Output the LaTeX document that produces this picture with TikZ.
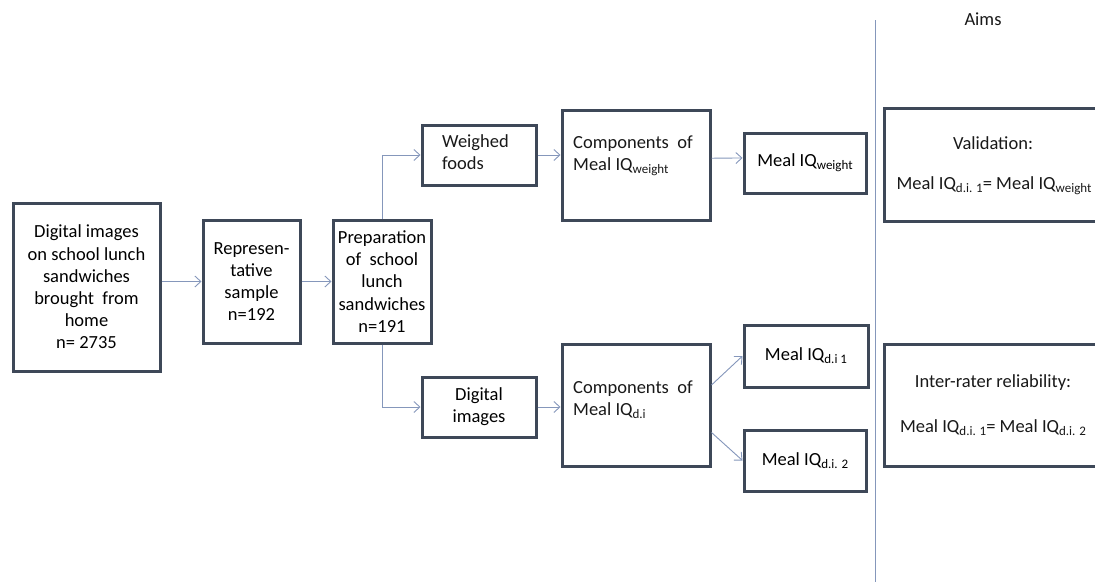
\documentclass[tikz,border=0pt]{standalone}
\usepackage{fontspec}
\setmainfont{Carlito}
\usetikzlibrary{arrows.meta,calc}
\definecolor{boxc}{HTML}{3E4858}
\definecolor{arrc}{HTML}{8597BB}
\newcommand{\lsub}[1]{\raisebox{-0.35ex}{\fontsize{13}{13}\selectfont #1}}
\tikzset{
  box/.style={draw=boxc, line width=3pt, fill=white, inner sep=0pt, align=center},
  txt/.style={inner sep=0pt, align=center, text=black!90},
  conn/.style={draw=arrc, line width=0.9pt, -{Straight Barb[length=6pt,width=11pt]}},
  plain/.style={draw=arrc, line width=0.9pt}
}
\begin{document}
\begin{tikzpicture}[x=1pt,y=-1pt,font=\fontsize{18.5}{22.2}\selectfont]
\useasboundingbox[fill=white] (0,0) rectangle (1095,581);
\clip (0,0) rectangle (1095,581);
% left chain
\node[box, minimum width=147, minimum height=168] (b1) at (86.5,287) {Digital images\\on school lunch\\sandwiches\\brought \ from\\home\\n= 2735};
\node[box, minimum width=97, minimum height=123] (b2) at (251.5,281.5) {Represen-\\tative\\sample\\n=192};
\node[box, minimum width=98, minimum height=123] (b3) at (382,281.5) {Preparation\\of \ school\\lunch\\sandwiches\\n=191};
% upper branch
\node[box, minimum width=114, minimum height=60] (wf) at (479,155) {};
\node[txt, align=left, anchor=west] (wft) at (442,152) {Weighed\\foods};
\node[box, minimum width=148, minimum height=110] (cw) at (636,165) {};
\node[txt, align=left, anchor=west] (cwt) at (573,156) {Components \ of\\Meal IQ\lsub{weight}};
\node[box, minimum width=122, minimum height=60] (mw) at (805,163) {Meal IQ\lsub{weight}};
% lower branch
\node[box, minimum width=114, minimum height=60] (di) at (479,407) {Digital\\images};
\node[box, minimum width=148, minimum height=122] (cd) at (636,405) {};
\node[txt, align=left, anchor=west] (cdt) at (573,400) {Components \ of\\Meal IQ\lsub{d.i}};
\node[box, minimum width=124, minimum height=62] (m1) at (806,356) {Meal IQ\lsub{d.i 1}};
\node[box, minimum width=122, minimum height=61] (m2) at (805,460.5) {Meal IQ\lsub{d.i. 2}};
% divider and aims
\coordinate (vtop) at (875,20);
\coordinate (vbot) at (875,585);
\draw[plain] (vtop) -- (vbot);
\node[txt] (aims) at (983,19) {\fontsize{18.5}{20}\selectfont Aims};
\node[box, minimum width=222, minimum height=113, anchor=north west] (val) at (883,107) {};
\node[txt] (valt) at (993,143) {Validation:};
\node[txt] (valf) at (994,186) {Meal IQ\lsub{d.i. 1}= Meal IQ\lsub{weight}};
\node[box, minimum width=222, minimum height=122, anchor=north west] (irr) at (883,343) {};
\node[txt] (irrt) at (993,383) {Inter-rater reliability:};
\node[txt] (irrf) at (993,428) {Meal IQ\lsub{d.i. 1}= Meal IQ\lsub{d.i. 2}};
% connectors
\draw[conn] (b1.east |- b2) -- (b2.west);
\draw[conn] (b2.east) -- (b3.west);
\draw[conn] (b3.north) |- (wf.west);
\draw[conn] (b3.south) |- (di.west);
\draw[conn] (wf.east) -- (wf.east -| cw.west);
\draw[conn] ($(cw.north east)!0.44!(cw.south east)$) -- ($(mw.north west)!0.42!(mw.south west)$);
\draw[conn] (di.east) -- (di.east -| cd.west);
\draw[conn] ($(cd.north east)!0.34!(cd.south east)$) -- (m1.west);
\draw[conn] ($(cd.north east)!0.72!(cd.south east)$) -- (m2.west);
\end{tikzpicture}
\end{document}
